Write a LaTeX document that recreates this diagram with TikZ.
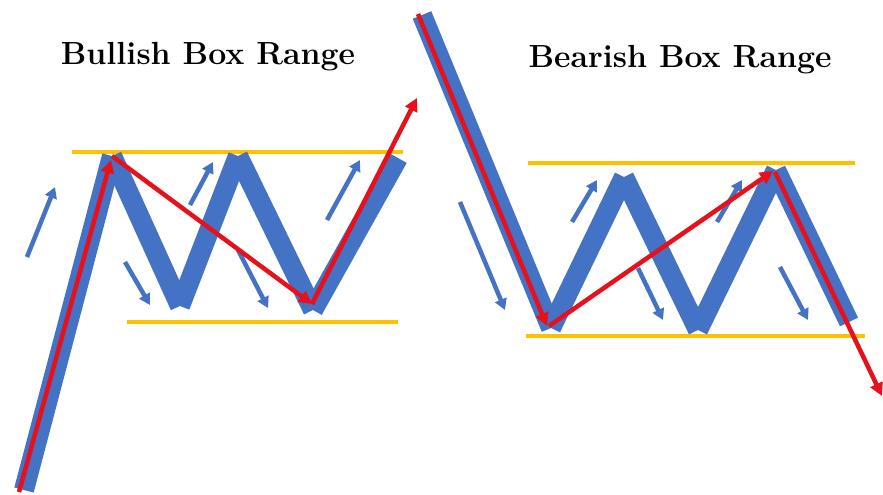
\documentclass[tikz,border=0pt]{standalone}
\usetikzlibrary{arrows.meta}
\definecolor{BoxBlue}{HTML}{4472C4}
\definecolor{BoxRed}{HTML}{E8101A}
\definecolor{BoxGold}{HTML}{FFC000}

\begin{document}
\begin{tikzpicture}[x=1pt,y=-1pt,
  leg/.style={draw=BoxBlue,line width=20pt},
  move/.style={draw=BoxRed,line width=4.5pt,-{Triangle[length=13pt,width=13pt]}},
  hint/.style={draw=BoxBlue,line width=4.5pt,-{Triangle[length=11pt,width=12pt]}},
  level/.style={draw=BoxGold,line width=3.5pt},
  title/.style={font=\fontsize{32}{38}\selectfont\bfseries}]
  \useasboundingbox (0,0) rectangle (883,495);

  % bullish side
  \begin{scope}
    \node[title] (bulltitle) at (208,57) {Bullish Box Range};
    \coordinate (ls) at (24,490);
    \coordinate (lp1) at (112,156);
    \coordinate (lv1) at (180,306);
    \coordinate (lp2) at (238,156);
    \coordinate (lv2) at (313,310);
    \coordinate (le) at (398,158);
    \coordinate (lt) at (417,98);
    \draw[level] (72,152) -- (403,152);
    \draw[level] (127,322) -- (398,322);
    \draw[leg] (ls) -- (lp1);
    \draw[leg] (lp1) -- (lv1);
    \draw[leg] (lv1) -- (lp2);
    \draw[leg] (lp2) -- (lv2);
    \draw[leg] (lv2) -- (le);
    \draw[hint] (27,257) -- (55,187);
    \draw[hint] (190,205) -- (213,162);
    \draw[hint] (327,220) -- (360,160);
    \draw[hint] (125,262) -- (150,305);
    \draw[hint] (238,250) -- (268,308);
    \draw[move] (19,492) -- (111,160);
    \draw[move] (lp1) -- (312,304);
    \draw[move] (312,304) -- (lt);
  \end{scope}

  % bearish side
  \begin{scope}
    \node[title] (beartitle) at (680,60) {Bearish Box Range};
    \coordinate (rs) at (422,15);
    \coordinate (rv1) at (551,328);
    \coordinate (rp1) at (624,177);
    \coordinate (rv2) at (698,330);
    \coordinate (rp2) at (776,170);
    \coordinate (re) at (849,322);
    \coordinate (rt) at (882,396);
    \draw[level] (528,163) -- (855,163);
    \draw[level] (526,336) -- (865,336);
    \draw[leg] (rs) -- (rv1);
    \draw[leg] (rv1) -- (rp1);
    \draw[leg] (rp1) -- (rv2);
    \draw[leg] (rv2) -- (rp2);
    \draw[leg] (rp2) -- (re);
    \draw[hint] (460,202) -- (505,310);
    \draw[hint] (572,222) -- (597,180);
    \draw[hint] (638,268) -- (663,320);
    \draw[hint] (717,222) -- (742,180);
    \draw[hint] (780,267) -- (808,320);
    \draw[move] (418,14) -- (547,326);
    \draw[move] (549,326) -- (773,171);
    \draw[move] (775,172) -- (rt);
  \end{scope}
\end{tikzpicture}
\end{document}
